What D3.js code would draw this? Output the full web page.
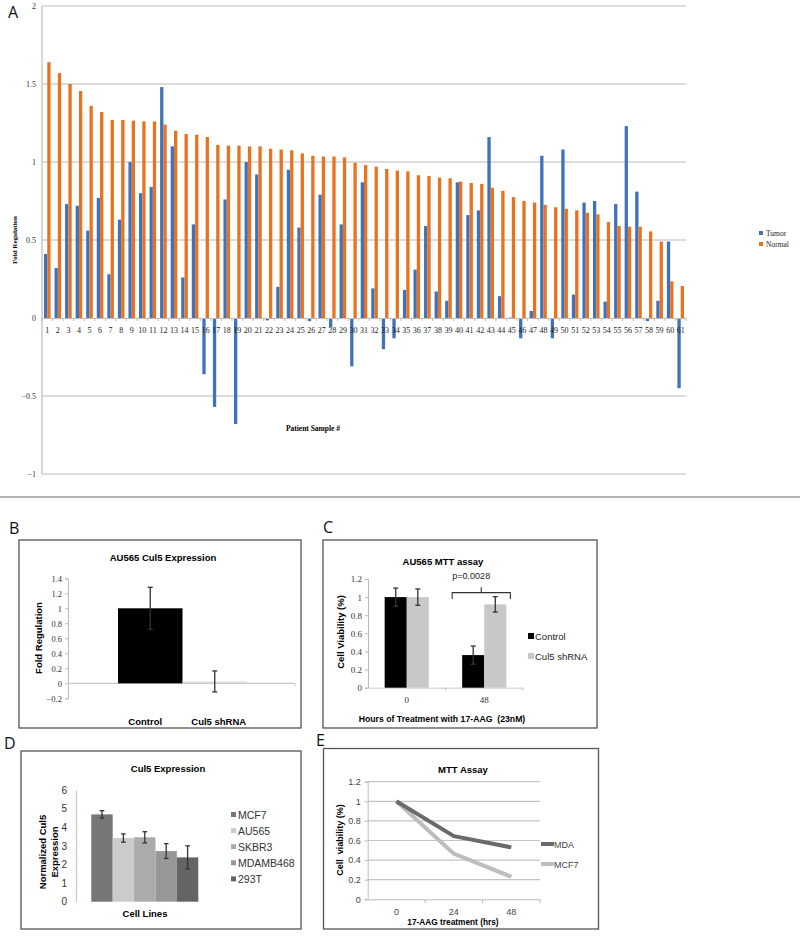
<!DOCTYPE html>
<html><head><meta charset="utf-8">
<script src="https://cdn.jsdelivr.net/npm/d3@7"></script>
<style>body{margin:0;background:#fff}svg{display:block}</style>
</head><body>
<script>
// ---------- Panel A data ----------
const patients = ["1","2","3","4","5","6","7","8","9","10","11","12","13","14","15","16","17","18","19","20","21","22","23","24","25","26","27","28","29","30","31","32","33","34","35","36","37","38","39","40","41","42","43","44","45","46","47","48","49","50","51","52","53","54","55","56","57","58","59","60","61"];
const tumor = [0.41,0.32,0.73,0.72,0.56,0.77,0.28,0.63,1.0,0.80,0.84,1.48,1.10,0.26,0.60,-0.36,-0.57,0.76,-0.68,1.0,0.92,-0.015,0.20,0.95,0.58,-0.02,0.79,-0.06,0.60,-0.31,0.87,0.19,-0.20,-0.13,0.18,0.31,0.59,0.17,0.11,0.87,0.66,0.69,1.16,0.14,0.003,-0.13,0.045,1.04,-0.13,1.08,0.15,0.74,0.75,0.105,0.73,1.23,0.81,-0.02,0.11,0.49,-0.45];
const normal = [1.64,1.57,1.50,1.455,1.36,1.32,1.27,1.27,1.265,1.26,1.26,1.24,1.20,1.18,1.175,1.16,1.11,1.105,1.105,1.10,1.10,1.085,1.08,1.075,1.055,1.04,1.035,1.035,1.03,0.995,0.98,0.97,0.955,0.945,0.94,0.915,0.91,0.90,0.895,0.875,0.865,0.86,0.835,0.815,0.775,0.75,0.74,0.725,0.71,0.70,0.69,0.675,0.665,0.615,0.59,0.585,0.585,0.555,0.49,0.235,0.205];
const seriesA = ["Tumor","Normal"];
const ticksA = [-1,-0.5,0,0.5,1,1.5,2];

// ---------- Panel B data ----------
const groupsB = ["Control","Cul5 shRNA"];
const valuesB = [1.0, 0.025];
const errorsB = [0.28, 0.14];
const ticksB = [-0.2,0,0.2,0.4,0.6,0.8,1,1.2,1.4];

// ---------- Panel C data ----------
const hoursC = ["0","48"];
const seriesC = ["Control","Cul5 shRNA"];
const controlC = [1.0, 0.36];
const controlErrC = [0.1, 0.1];
const shrnaC = [1.0, 0.92];
const shrnaErrC = [0.09, 0.085];
const ticksC = [0,0.2,0.4,0.6,0.8,1,1.2];

// ---------- Panel D data ----------
const cellLines = ["MCF7","AU565","SKBR3","MDAMB468","293T"];
const expressionD = [4.69, 3.42, 3.46, 2.72, 2.38];
const errorsD = [0.2, 0.22, 0.3, 0.4, 0.62];
const ticksD = [0,1,2,3,4,5,6];

// ---------- Panel E data ----------
const hoursE = ["0","24","48"];
const mdaE = [1.0, 0.645, 0.53];
const mcf7E = [1.0, 0.465, 0.23];
const ticksE = [0,0.2,0.4,0.6,0.8,1,1.2];

const W = 800, H = 938;
const svg = d3.select("body").append("svg").attr("width", W).attr("height", H);
const SERIF = "'Liberation Serif','Times New Roman',serif";
const SANS = "'Liberation Sans',Arial,sans-serif";

function panelLabel(t, x, y){
  svg.append("text").attr("x",x).attr("y",y).text(t)
    .attr("font-family","'Open Sans','Liberation Sans',sans-serif").attr("font-size",16).attr("fill","#111");
}

// ================= Panel A =================
(function(){
  const g = svg.append("g");
  const x = d3.scaleBand().domain(patients).range([42, 686]).padding(0);
  const xs = d3.scaleBand().domain(seriesA).range([0, x.bandwidth()]).paddingInner(0).paddingOuter(0.6);
  const y = d3.scaleLinear().domain([-1, 2]).range([474, 6]);
  const colors = {Tumor:"#3e72ba", Normal:"#e8721f"};

  g.selectAll(".grid").data(ticksA.filter(d=>d!==0)).join("line")
    .attr("x1", 42).attr("x2", 686).attr("y1", d=>y(d)).attr("y2", d=>y(d))
    .attr("stroke","#d0d0d0").attr("stroke-width",1.5);
  g.append("line").attr("x1",42).attr("x2",42).attr("y1",y(2)).attr("y2",y(-1))
    .attr("stroke","#c8c8c8").attr("stroke-width",1.5);
  g.selectAll(".yl").data(ticksA).join("text")
    .attr("x", 36).attr("y", d=>y(d)+3).attr("text-anchor","end")
    .attr("font-family",SERIF).attr("font-size",8).attr("fill","#333")
    .text(d=>d3.format("")(d));

  const rows = patients.map((p,i)=>({p, Tumor:tumor[i], Normal:normal[i]}));
  seriesA.forEach(s=>{
    g.selectAll(".b"+s).data(rows).join("rect")
      .attr("x", d=>x(d.p)+xs(s)).attr("width", xs.bandwidth())
      .attr("y", d=>y(Math.max(0,d[s]))).attr("height", d=>Math.abs(y(d[s])-y(0)))
      .attr("fill", colors[s]);
  });
  const ax = g.append("g").attr("transform",`translate(0,${y(0)})`)
    .call(d3.axisBottom(x).tickSize(0).tickPadding(9));
  ax.select(".domain").attr("stroke","#bdbdbd").attr("stroke-width",1.2);
  ax.selectAll("text").attr("font-family",SERIF).attr("font-size",8).attr("fill","#222");
  g.selectAll(".zt").data(patients).join("line")
    .attr("x1", d=>x(d)).attr("x2", d=>x(d)).attr("y1", y(0)).attr("y2", y(0)+3)
    .attr("stroke","#bdbdbd");
  g.append("line").attr("x1",686).attr("x2",686).attr("y1",y(0)).attr("y2",y(0)+3).attr("stroke","#bdbdbd");

  g.append("text").attr("transform",`translate(17,240) rotate(-90)`).attr("text-anchor","middle")
    .attr("font-family",SERIF).attr("font-weight","bold").attr("font-size",7).text("Fold Regulation");
  g.append("text").attr("x",313).attr("y",431).attr("text-anchor","middle")
    .attr("font-family",SERIF).attr("font-weight","bold").attr("font-size",7.5).text("Patient Sample #");
  seriesA.forEach((s,i)=>{
    g.append("rect").attr("x",759).attr("y",231+i*11).attr("width",4).attr("height",4).attr("fill",colors[s]);
    g.append("text").attr("x",766).attr("y",236+i*11).attr("font-family",SERIF).attr("font-size",7.5)
      .attr("fill","#222").text(s);
  });
  panelLabel("A", 8, 18);
  svg.append("line").attr("x1",0).attr("x2",800).attr("y1",497).attr("y2",497).attr("stroke","#9a9a9a").attr("stroke-width",1.5);
})();

function box(x1,y1,x2,y2){
  svg.append("rect").attr("x",x1).attr("y",y1).attr("width",x2-x1).attr("height",y2-y1)
    .attr("fill","none").attr("stroke","#555").attr("stroke-width",1.3);
}
function errBar(g, cx, y, v, e, cap, color){
  const ln = g.append("g").attr("stroke",color).attr("stroke-width",1.3);
  ln.append("line").attr("x1",cx).attr("x2",cx).attr("y1",y(v+e)).attr("y2",y(v-e));
  ln.append("line").attr("x1",cx-cap).attr("x2",cx+cap).attr("y1",y(v+e)).attr("y2",y(v+e));
  ln.append("line").attr("x1",cx-cap).attr("x2",cx+cap).attr("y1",y(v-e)).attr("y2",y(v-e));
}

// ================= Panel B =================
(function(){
  panelLabel("B", 9, 534);
  box(19, 540, 301, 728);
  const g = svg.append("g");
  const y = d3.scaleLinear().domain([-0.2, 1.4]).range([698.3, 578.3]);
  const x = d3.scaleBand().domain(groupsB).range([118, 247]).padding(0);
  g.append("text").attr("x",163).attr("y",561).attr("text-anchor","middle")
    .attr("font-family",SANS).attr("font-weight","bold").attr("font-size",9.5).text("AU565 Cul5 Expression");
  const ya = g.append("g").attr("transform","translate(68,0)")
    .call(d3.axisLeft(y).tickValues(ticksB).tickSize(3).tickPadding(3).tickFormat(d3.format("")));
  ya.select(".domain").attr("stroke","#bbb");
  ya.selectAll("line").attr("stroke","#bbb");
  ya.selectAll("text").attr("font-family",SERIF).attr("font-size",8.5).attr("fill","#333");
  g.append("line").attr("x1",68).attr("x2",295).attr("y1",y(0)).attr("y2",y(0)).attr("stroke","#c8c8c8").attr("stroke-width",1.2);
  g.append("line").attr("x1",295).attr("x2",295).attr("y1",y(0)).attr("y2",y(0)+3).attr("stroke","#c8c8c8");
  const fills = ["#000","#dcdcdc"];
  groupsB.forEach((k,i)=>{
    g.append("rect").attr("x",x(k)).attr("width",x.bandwidth())
      .attr("y",y(Math.max(0,valuesB[i]))).attr("height",Math.abs(y(valuesB[i])-y(0))).attr("fill",fills[i]);
  });
  groupsB.forEach((k,i)=>errBar(g, x(k)+x.bandwidth()/2, y, valuesB[i], errorsB[i], 2.5, "#333"));
  groupsB.forEach((k,i)=>{
    g.append("text").attr("x",x(k)+x.bandwidth()/2 + (i===0?-5:4)).attr("y",725).attr("text-anchor","middle")
      .attr("font-family",SANS).attr("font-weight","bold").attr("font-size",9.5).text(k);
  });
  g.append("text").attr("transform","translate(42,638) rotate(-90)").attr("text-anchor","middle")
    .attr("font-family",SANS).attr("font-weight","bold").attr("font-size",9.5).text("Fold Regulation");
})();

// ================= Panel C =================
(function(){
  panelLabel("C", 323, 533);
  box(323, 540, 597, 728);
  const g = svg.append("g");
  const y = d3.scaleLinear().domain([0, 1.2]).range([687.7, 579]);
  const x0 = d3.scaleBand().domain(hoursC).range([368, 523]).padding(0);
  const bw = x0.bandwidth();
  const x1 = d3.scaleBand().domain(seriesC).range([0.215*bw, 0.785*bw]).padding(0);
  g.append("text").attr("x",443).attr("y",565).attr("text-anchor","middle")
    .attr("font-family",SANS).attr("font-weight","bold").attr("font-size",9.5).text("AU565 MTT assay");
  const ya = g.append("g").attr("transform","translate(368,0)")
    .call(d3.axisLeft(y).tickValues(ticksC).tickSize(3).tickPadding(3).tickFormat(d3.format("")));
  ya.select(".domain").attr("stroke","#bbb");
  ya.selectAll("line").attr("stroke","#bbb");
  ya.selectAll("text").attr("font-family",SERIF).attr("font-size",9).attr("fill","#333");
  const xa = g.append("g").attr("transform",`translate(0,${y(0)})`)
    .call(d3.axisBottom(x0).tickSize(0).tickPadding(9));
  xa.select(".domain").attr("stroke","#c8c8c8");
  xa.selectAll("text").attr("font-family",SERIF).attr("font-size",9).attr("fill","#333");
  g.selectAll(".ct").data(hoursC).join("line").attr("x1",d=>x0(d)+bw).attr("x2",d=>x0(d)+bw)
    .attr("y1",y(0)).attr("y2",y(0)+3).attr("stroke","#c8c8c8");
  const sets = [{s:"Control", v:controlC, e:controlErrC, f:"#000"},{s:"Cul5 shRNA", v:shrnaC, e:shrnaErrC, f:"#c8c8c8"}];
  sets.forEach(set=>{
    hoursC.forEach((h,i)=>{
      g.append("rect").attr("x",x0(h)+x1(set.s)).attr("width",x1.bandwidth())
        .attr("y",y(set.v[i])).attr("height",y(0)-y(set.v[i])).attr("fill",set.f);
    });
  });
  sets.forEach(set=>{
    hoursC.forEach((h,i)=>errBar(g, x0(h)+x1(set.s)+x1.bandwidth()/2, y, set.v[i], set.e[i], 2.5, "#333"));
  });
  const bl = x0("48")+x1("Control")-10, br = x0("48")+x1("Cul5 shRNA")+x1.bandwidth()+4, bm = (bl+br)/2;
  const br_g = g.append("g").attr("fill","none").attr("stroke","#333").attr("stroke-width",1.1);
  br_g.append("path").attr("d",`M${bl},${y(0.98)} L${bl},${y(1.05)} L${br},${y(1.05)} L${br},${y(0.98)}`);
  br_g.append("path").attr("d",`M${bm},${y(1.05)} L${bm},${y(1.11)}`);
  g.append("text").attr("x",bm-10).attr("y",y(1.205)).attr("text-anchor","middle")
    .attr("font-family",SANS).attr("font-size",9).attr("fill","#222").text("p=0.0028");
  sets.forEach((set,i)=>{
    g.append("rect").attr("x",528).attr("y",633+i*20).attr("width",6).attr("height",6).attr("fill",set.f);
    g.append("text").attr("x",535).attr("y",640+i*20).attr("font-family",SANS).attr("font-size",9.5)
      .attr("fill","#222").text(set.s);
  });
  g.append("text").attr("x",442).attr("y",722).attr("text-anchor","middle")
    .attr("font-family",SANS).attr("font-weight","bold").attr("font-size",8.7).attr("xml:space","preserve")
    .text("Hours of Treatment with 17-AAG  (23nM)");
  g.append("text").attr("transform","translate(344,632) rotate(-90)").attr("text-anchor","middle")
    .attr("font-family",SANS).attr("font-weight","bold").attr("font-size",9.5).text("Cell Viability (%)");
})();

// ================= Panel D =================
(function(){
  panelLabel("D", 4, 749);
  box(21, 751, 301, 929);
  const g = svg.append("g");
  const y = d3.scaleLinear().domain([0, 6]).range([901.7, 790]);
  const x = d3.scaleBand().domain(cellLines).range([91.3, 198.3]).padding(0);
  const colors = ["#767676","#cbcbcb","#ababab","#979797","#646464"];
  g.append("text").attr("x",168).attr("y",772).attr("text-anchor","middle")
    .attr("font-family",SANS).attr("font-weight","bold").attr("font-size",9.5).text("Cul5 Expression");
  const ya = g.append("g").attr("transform","translate(76,0)")
    .call(d3.axisLeft(y).tickValues(ticksD).tickSize(0).tickPadding(9).tickFormat(d3.format("d")));
  ya.select(".domain").attr("stroke","#c8c8c8").attr("stroke-width",1.2);
  ya.selectAll("text").attr("font-family",SANS).attr("font-size",10).attr("fill","#333");
  cellLines.forEach((c,i)=>{
    g.append("rect").attr("x",x(c)).attr("width",x.bandwidth())
      .attr("y",y(expressionD[i])).attr("height",y(0)-y(expressionD[i])).attr("fill",colors[i]);
  });
  cellLines.forEach((c,i)=>errBar(g, x(c)+x.bandwidth()/2, y, expressionD[i], errorsD[i], 2.3, "#333"));
  cellLines.forEach((c,i)=>{
    g.append("rect").attr("x",231).attr("y",812+i*16.1).attr("width",5).attr("height",5).attr("fill",colors[i]);
    g.append("text").attr("x",238).attr("y",819+i*16.1).attr("font-family",SANS).attr("font-size",10.5)
      .attr("fill","#333").text(c);
  });
  g.append("text").attr("x",145).attr("y",917).attr("text-anchor","middle")
    .attr("font-family",SANS).attr("font-weight","bold").attr("font-size",9.5).text("Cell Lines");
  g.append("text").attr("transform","translate(46,852) rotate(-90)").attr("text-anchor","middle")
    .attr("font-family",SANS).attr("font-weight","bold").attr("font-size",9.5).text("Normalized Cul5");
  g.append("text").attr("transform","translate(58,852) rotate(-90)").attr("text-anchor","middle")
    .attr("font-family",SANS).attr("font-weight","bold").attr("font-size",9.5).text("Expression");
})();

// ================= Panel E =================
(function(){
  panelLabel("E", 316, 746);
  box(323.5, 748.5, 598.5, 929);
  const g = svg.append("g");
  const y = d3.scaleLinear().domain([0, 1.2]).range([899.3, 781.7]);
  const x = d3.scaleBand().domain(hoursE).range([367.7, 540]).padding(0);
  g.append("text").attr("x",463).attr("y",773).attr("text-anchor","middle")
    .attr("font-family",SANS).attr("font-weight","bold").attr("font-size",9.5).text("MTT Assay");
  g.selectAll(".eg").data(ticksE.filter(d=>d>0)).join("line")
    .attr("x1",367.7).attr("x2",540).attr("y1",d=>y(d)).attr("y2",d=>y(d)).attr("stroke","#c4c4c4").attr("stroke-width",1.2);
  const ya = g.append("g").attr("transform","translate(367.7,0)")
    .call(d3.axisLeft(y).tickValues(ticksE).tickSize(3).tickPadding(4).tickFormat(d3.format("")));
  ya.select(".domain").attr("stroke","#bbb");
  ya.selectAll("line").attr("stroke","#bbb");
  ya.selectAll("text").attr("font-family",SANS).attr("font-size",9).attr("fill","#444");
  const xa = g.append("g").attr("transform",`translate(0,${y(0)})`)
    .call(d3.axisBottom(x).tickSize(0).tickPadding(9));
  xa.select(".domain").attr("stroke","#bbb");
  xa.selectAll("text").attr("font-family",SANS).attr("font-size",9).attr("fill","#444");
  g.selectAll(".et").data(hoursE).join("line").attr("x1",d=>x(d)+x.bandwidth()).attr("x2",d=>x(d)+x.bandwidth())
    .attr("y1",y(0)).attr("y2",y(0)+4).attr("stroke","#bbb");
  const line = d3.line().x((d,i)=>x(hoursE[i])+x.bandwidth()/2).y(d=>y(d));
  const series = [{n:"MDA", v:mdaE, c:"#6a6a6a"},{n:"MCF7", v:mcf7E, c:"#bdbdbd"}];
  [series[1], series[0]].forEach(s=>{
    g.append("path").attr("d",line(s.v)).attr("fill","none").attr("stroke",s.c).attr("stroke-width",4)
      .attr("stroke-linejoin","round");
  });
  series.forEach((s,i)=>{
    g.append("line").attr("x1",541).attr("x2",554).attr("y1",844+i*20).attr("y2",844+i*20).attr("stroke",s.c).attr("stroke-width",4);
    g.append("text").attr("x",554).attr("y",848+i*20).attr("font-family",SANS).attr("font-size",9)
      .attr("fill","#444").text(s.n);
  });
  g.append("text").attr("x",453).attr("y",925).attr("text-anchor","middle")
    .attr("font-family",SANS).attr("font-weight","bold").attr("font-size",8.3).text("17-AAG treatment (hrs)");
  g.append("text").attr("transform","translate(343,840) rotate(-90)").attr("text-anchor","middle")
    .attr("font-family",SANS).attr("font-weight","bold").attr("font-size",9).attr("xml:space","preserve").text("Cell  viability (%)");
})();
</script>
</body></html>
